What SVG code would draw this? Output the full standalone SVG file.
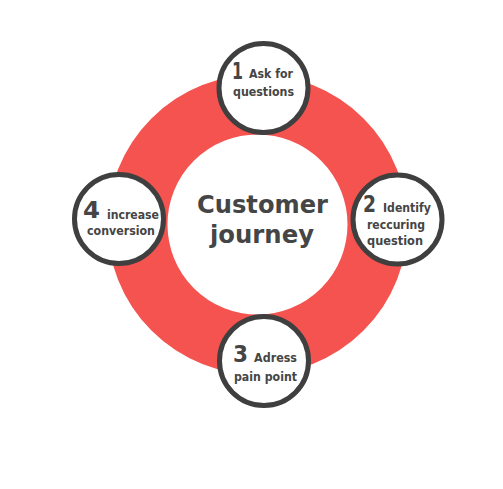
<svg xmlns="http://www.w3.org/2000/svg" width="503" height="489" viewBox="0 0 503 489">
<style>
.node circle{fill:#fff;stroke:#3f3f3f;stroke-width:5}
text{font-family:"DejaVu Sans","Open Sans",sans-serif;font-weight:bold;fill:#454545}
.num{font-size:23px}
.lbl{font-size:12.5px}
.ctr{font-size:25px}
</style>
<rect width="503" height="489" fill="#fff"/>
<g id="ring">
<circle cx="257.5" cy="224.5" r="120" fill="none" stroke="#F4534F" stroke-width="60"/>
</g>
<g id="center">
<text class="ctr" x="262.5" y="213" text-anchor="middle" textLength="131" lengthAdjust="spacingAndGlyphs">Customer</text>
<text class="ctr" x="262" y="243" text-anchor="middle" textLength="104" lengthAdjust="spacingAndGlyphs">journey</text>
</g>
<g id="connectors"></g>
<g id="node1" class="node">
<circle cx="263.5" cy="88" r="44.5"/>
<text class="num" x="232" y="79" textLength="11" lengthAdjust="spacingAndGlyphs">1</text>
<text class="lbl" x="249" y="78" textLength="44" lengthAdjust="spacingAndGlyphs">Ask for</text>
<text class="lbl" x="233" y="96" textLength="61" lengthAdjust="spacingAndGlyphs">questions</text>
</g>
<g id="node2" class="node">
<circle cx="397.5" cy="219.5" r="44.5"/>
<text class="num" x="363" y="212" textLength="13" lengthAdjust="spacingAndGlyphs">2</text>
<text class="lbl" x="383" y="212" textLength="48" lengthAdjust="spacingAndGlyphs">Identify</text>
<text class="lbl" x="367" y="229" textLength="58" lengthAdjust="spacingAndGlyphs">reccuring</text>
<text class="lbl" x="367" y="245" textLength="56" lengthAdjust="spacingAndGlyphs">question</text>
</g>
<g id="node3" class="node">
<circle cx="264" cy="361" r="44.5"/>
<text class="num" x="233" y="362" textLength="15" lengthAdjust="spacingAndGlyphs">3</text>
<text class="lbl" x="254" y="362" textLength="43" lengthAdjust="spacingAndGlyphs">Adress</text>
<text class="lbl" x="234" y="381" textLength="63" lengthAdjust="spacingAndGlyphs">pain point</text>
</g>
<g id="node4" class="node">
<circle cx="119" cy="219" r="44.5"/>
<text class="num" x="83" y="218" textLength="17" lengthAdjust="spacingAndGlyphs">4</text>
<text class="lbl" x="107" y="219" textLength="52" lengthAdjust="spacingAndGlyphs">increase</text>
<text class="lbl" x="87" y="235" textLength="68" lengthAdjust="spacingAndGlyphs">conversion</text>
</g>
</svg>
